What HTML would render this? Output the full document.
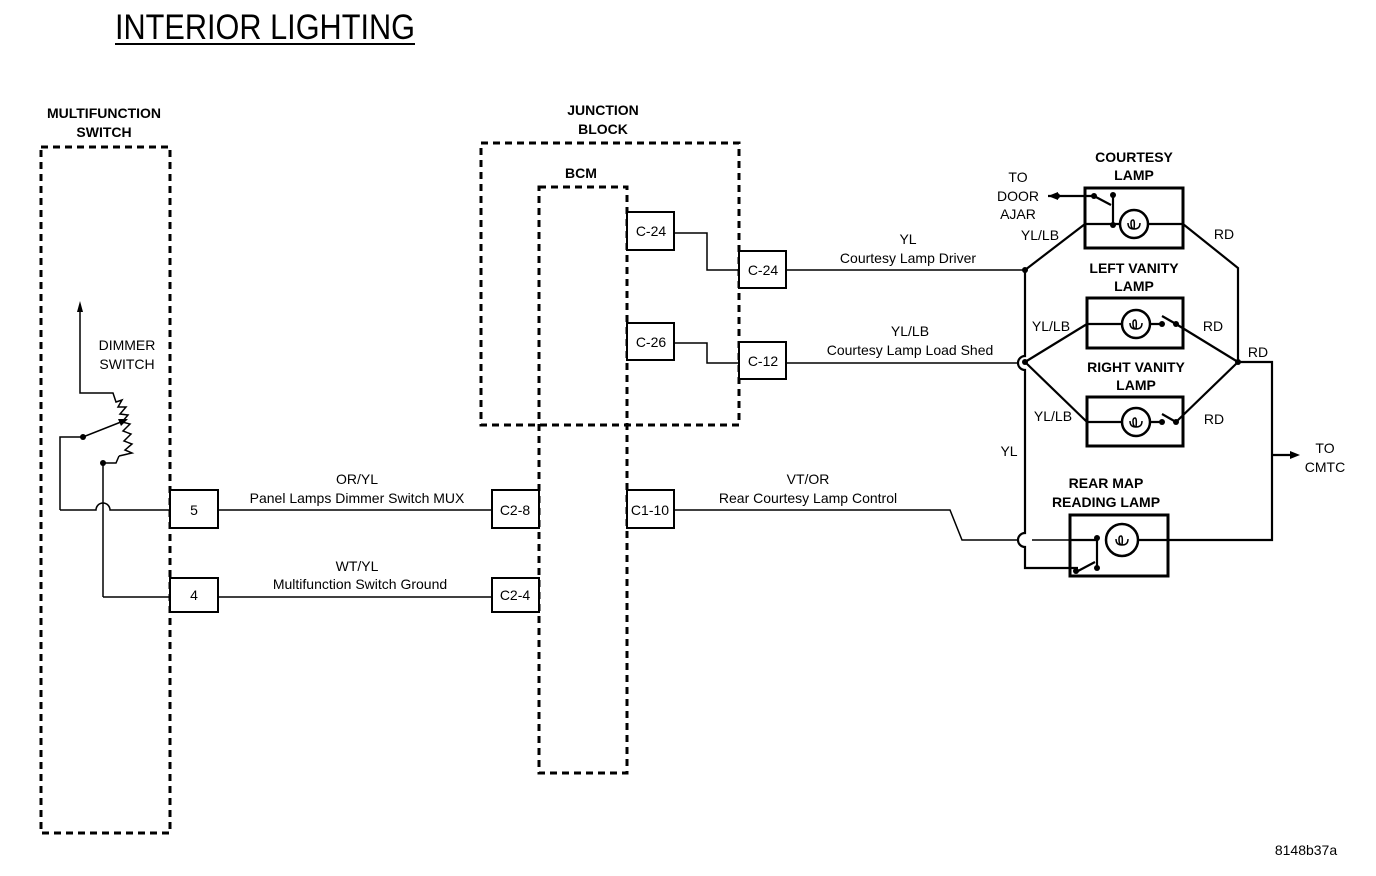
<!DOCTYPE html>
<html><head><meta charset="utf-8"><style>
html,body{margin:0;padding:0;background:#fff;}
svg{display:block;}
text{font-family:"Liberation Sans",sans-serif;fill:#000;}
.b{font-weight:bold;}
</style></head><body>
<svg width="1376" height="876" viewBox="0 0 1376 876" xmlns="http://www.w3.org/2000/svg">
<rect width="1376" height="876" fill="#fff"/>
<text x="115" y="39" font-size="35" textLength="300" lengthAdjust="spacingAndGlyphs">INTERIOR LIGHTING</text>
<line x1="115" y1="44" x2="415" y2="44" stroke="#000" stroke-width="2"/>

<g font-size="14" class="b" text-anchor="middle">
<text x="104" y="118" class="b">MULTIFUNCTION</text>
<text x="104" y="137" class="b">SWITCH</text>
<text x="603" y="115" class="b">JUNCTION</text>
<text x="603" y="134" class="b">BLOCK</text>
<text x="581" y="178" class="b">BCM</text>
<text x="1134" y="162" class="b">COURTESY</text>
<text x="1134" y="180" class="b">LAMP</text>
<text x="1134" y="273" class="b">LEFT VANITY</text>
<text x="1134" y="291" class="b">LAMP</text>
<text x="1136" y="372" class="b">RIGHT VANITY</text>
<text x="1136" y="390" class="b">LAMP</text>
<text x="1106" y="488" class="b">REAR MAP</text>
<text x="1106" y="507" class="b">READING LAMP</text>
</g>

<g fill="none" stroke="#000" stroke-width="3" stroke-dasharray="7,5">
<rect x="41" y="147" width="129" height="686"/>
<rect x="481" y="143" width="258" height="282"/>
<rect x="539" y="187" width="88" height="586"/>
</g>

<g fill="#fff" stroke="#000" stroke-width="2">
<rect x="627" y="212" width="47" height="38"/>
<rect x="739" y="251" width="47" height="37"/>
<rect x="627" y="323" width="47" height="37"/>
<rect x="739" y="342" width="47" height="37"/>
<rect x="627" y="490" width="47" height="38"/>
<rect x="492" y="490" width="47" height="38"/>
<rect x="492" y="578" width="47" height="34"/>
<rect x="170" y="490" width="48" height="38"/>
<rect x="170" y="578" width="48" height="34"/>
</g>
<g font-size="14" text-anchor="middle">
<text x="651" y="236">C-24</text>
<text x="763" y="275">C-24</text>
<text x="651" y="347">C-26</text>
<text x="763" y="366">C-12</text>
<text x="650" y="515">C1-10</text>
<text x="515" y="515">C2-8</text>
<text x="515" y="600">C2-4</text>
<text x="194" y="515">5</text>
<text x="194" y="600">4</text>
</g>

<g fill="none" stroke="#000" stroke-width="1.5">
<polyline points="674,233 707,233 707,270 739,270"/>
<polyline points="674,343 707,343 707,363 739,363"/>
<line x1="786" y1="270" x2="1025" y2="270"/>
<line x1="786" y1="363" x2="1018" y2="363"/>
<polyline points="674,510 950,510 962,540 1018,540"/>
<line x1="1032" y1="540" x2="1070" y2="540"/>
<line x1="218" y1="510" x2="492" y2="510"/>
<line x1="218" y1="597" x2="492" y2="597"/>
</g>
<g fill="none" stroke="#000" stroke-width="2.2">
<path d="M1025,270 V356 A7,7 0 0 0 1025,370 V533 A7,7 0 0 0 1025,547 V568 H1078"/>
<line x1="1085" y1="224" x2="1183" y2="224"/>
<line x1="1048" y1="196" x2="1094" y2="196"/>
<line x1="1094" y1="196" x2="1111" y2="205"/>
<line x1="1113" y1="195" x2="1113" y2="225"/>
<polyline points="1025,270 1085,224"/>
<polyline points="1183,224 1238,268 1238,362"/>
<line x1="1087" y1="324" x2="1162" y2="324"/>
<line x1="1162" y1="316" x2="1176" y2="324"/>
<line x1="1025" y1="362" x2="1087" y2="324"/>
<line x1="1176" y1="324" x2="1238" y2="362"/>
<line x1="1087" y1="422" x2="1162" y2="422"/>
<line x1="1162" y1="414" x2="1176" y2="422"/>
<line x1="1025" y1="362" x2="1087" y2="422"/>
<line x1="1176" y1="422" x2="1238" y2="362"/>
<polyline points="1238,362 1272,362 1272,540 1168,540"/>
<line x1="1272" y1="455" x2="1294" y2="455"/>
<line x1="1070" y1="540" x2="1097" y2="540"/>
<line x1="1138" y1="540" x2="1168" y2="540"/>
<line x1="1097" y1="538" x2="1097" y2="568"/>
<line x1="1078" y1="571" x2="1095" y2="562"/>
</g>
<g fill="none" stroke="#000" stroke-width="3">
<rect x="1085" y="188" width="98" height="60"/>
<rect x="1087" y="298" width="96" height="50"/>
<rect x="1087" y="397" width="96" height="49"/>
<rect x="1070" y="515" width="98" height="61"/>
</g>
<g fill="#fff" stroke="#000" stroke-width="2.5">
<circle cx="1134" cy="224" r="14"/>
<circle cx="1136" cy="324" r="14"/>
<circle cx="1136" cy="422" r="14"/>
<circle cx="1122" cy="540" r="16"/>
</g>
<g fill="none" stroke="#000" stroke-width="1.5">
<path d="M1122,540 m-6,-1 q0,6 6,6 q6,0 6,-6 M1122,545 q-3,0 -3,-6 q0,-3 2,-3 q2,0 1,9"/>
<path d="M1134,224 m-6,-1 q0,6 6,6 q6,0 6,-6 M1134,229 q-3,0 -3,-6 q0,-3 2,-3 q2,0 1,9"/>
<path d="M1136,324 m-6,-1 q0,6 6,6 q6,0 6,-6 M1136,329 q-3,0 -3,-6 q0,-3 2,-3 q2,0 1,9"/>
<path d="M1136,422 m-6,-1 q0,6 6,6 q6,0 6,-6 M1136,427 q-3,0 -3,-6 q0,-3 2,-3 q2,0 1,9"/>
</g>
<g fill="#000">
<circle cx="1025" cy="270" r="3"/>
<circle cx="1025" cy="362" r="3"/>
<circle cx="1238" cy="362" r="3"/>
<circle cx="1094" cy="196" r="3"/>
<circle cx="1113" cy="195" r="3"/>
<circle cx="1113" cy="225" r="3"/>
<circle cx="1162" cy="324" r="3"/>
<circle cx="1176" cy="324" r="3"/>
<circle cx="1162" cy="422" r="3"/>
<circle cx="1176" cy="422" r="3"/>
<circle cx="1097" cy="538" r="3"/>
<circle cx="1097" cy="568" r="3"/>
<circle cx="1076" cy="571" r="3"/>
<circle cx="1057" cy="196" r="3"/>
<polygon points="1048,196 1058,192 1058,200"/>
<polygon points="1300,455 1290,451 1290,459"/>
</g>

<g fill="none" stroke="#000" stroke-width="1.5">
<path d="M60,510 H96 A7,7 0 0 1 110,510 H170"/>
<polyline points="60,510 60,437 83,437 126,420"/>
<polyline points="103,597 103,463 116,463 119,456"/>
<line x1="103" y1="597" x2="170" y2="597"/>
<polyline points="80,310 80,393 113,393 116,402 122,400 118,407 126,407 120,414 128,415 122,422 130,424 123,431 131,434 124,441 132,444 125,450 132,453 119,456"/>
</g>
<g fill="#000">
<circle cx="83" cy="437" r="3"/>
<circle cx="103" cy="463" r="3"/>
<polygon points="80,301 77,312 83,312"/>
<polygon points="128,419 118,419 121,426"/>
</g>

<g font-size="14" text-anchor="middle">
<text x="127" y="350">DIMMER</text>
<text x="127" y="369">SWITCH</text>
<text x="357" y="484">OR/YL</text>
<text x="357" y="503">Panel Lamps Dimmer Switch MUX</text>
<text x="357" y="571">WT/YL</text>
<text x="360" y="589">Multifunction Switch Ground</text>
<text x="908" y="244">YL</text>
<text x="908" y="263">Courtesy Lamp Driver</text>
<text x="910" y="336">YL/LB</text>
<text x="910" y="355">Courtesy Lamp Load Shed</text>
<text x="808" y="484">VT/OR</text>
<text x="808" y="503">Rear Courtesy Lamp Control</text>
<text x="1018" y="182">TO</text>
<text x="1018" y="201">DOOR</text>
<text x="1018" y="219">AJAR</text>
<text x="1040" y="240">YL/LB</text>
<text x="1224" y="239">RD</text>
<text x="1051" y="331">YL/LB</text>
<text x="1213" y="331">RD</text>
<text x="1258" y="357">RD</text>
<text x="1053" y="421">YL/LB</text>
<text x="1214" y="424">RD</text>
<text x="1009" y="456">YL</text>
<text x="1325" y="453">TO</text>
<text x="1325" y="472">CMTC</text>
<text x="1306" y="855">8148b37a</text>
</g>
</svg>
</body></html>
